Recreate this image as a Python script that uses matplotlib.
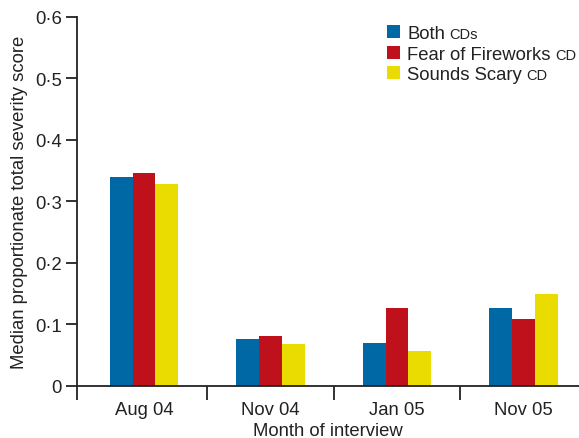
import matplotlib
matplotlib.use("Agg")
import matplotlib.pyplot as plt
import numpy as np

plt.rcParams['font.family'] = ['Liberation Sans', 'DejaVu Sans']

months = ['Aug 04', 'Nov 04', 'Jan 05', 'Nov 05']
series = ['Both', 'Fear of Fireworks', 'Sounds Scary']
suffix = ['CDs', 'CD', 'CD']
both = [0.340, 0.076, 0.070, 0.127]
fear = [0.346, 0.081, 0.127, 0.109]
scary = [0.328, 0.068, 0.057, 0.150]
yticks = [0, 0.1, 0.2, 0.3, 0.4, 0.5, 0.6]
ytick_labels = ['0', '0·1', '0·2', '0·3', '0·4', '0·5', '0·6']

colors = ['#0069a5', '#bf111c', '#eadb00']
ink = '#222222'
fs = 13.3

fig = plt.figure(figsize=(5.79, 4.39), dpi=100)
ax = fig.add_axes([0.133, 0.1185, 0.867, 0.8405])

x = np.arange(len(months))
w = 0.18
for i, (vals, lab) in enumerate(zip([both, fear, scary], series)):
    ax.bar(x + (i - 1) * w, vals, width=w, color=colors[i], label=lab)

ax.set_xlim(-0.53, 3.44)
ax.set_ylim(0, 0.6)
ax.set_yticks(yticks)
ax.set_yticklabels(ytick_labels)
ax.set_xticks(x)
ax.set_xticklabels(months)
ax.set_xticks([-0.53, 0.5, 1.5, 2.5], minor=True)
ax.tick_params(axis='x', which='major', length=0, pad=11, labelsize=fs, colors=ink)
ax.tick_params(axis='x', which='minor', length=10, width=1.3, color=ink, direction='out')
ax.tick_params(axis='y', length=8, width=1.3, color=ink, labelsize=fs, labelcolor=ink, pad=3)

for s in ['top', 'right']:
    ax.spines[s].set_visible(False)
for s in ['left', 'bottom']:
    ax.spines[s].set_linewidth(1.3)
    ax.spines[s].set_color(ink)

ax.set_ylabel('Median proportionate total severity score', fontsize=fs, color=ink, labelpad=5)
ax.set_xlabel('Month of interview', fontsize=fs, color=ink, labelpad=2.5)

leg = fig.legend(loc='upper left', bbox_to_anchor=(387 / 579, 413 / 439), frameon=False,
                 fontsize=fs, handlelength=0.72, handleheight=0.7, handletextpad=0.38,
                 labelspacing=0.2, borderaxespad=0.0, borderpad=0.0)
for t in leg.get_texts():
    t.set_color(ink)

# small-caps style suffixes after the legend labels, on the same baseline
fig.canvas.draw()
inv = fig.transFigure.inverted()
for t, suf in zip(leg.get_texts(), suffix):
    bb = t.get_window_extent()
    base_y = t.get_transform().transform(t.get_position())[1]
    px, py = inv.transform((bb.x1 + 4, base_y))
    fig.text(px, py, suf, fontsize=10.5, color=ink, ha='left', va='baseline')

fig.savefig('out.png', dpi=100)
